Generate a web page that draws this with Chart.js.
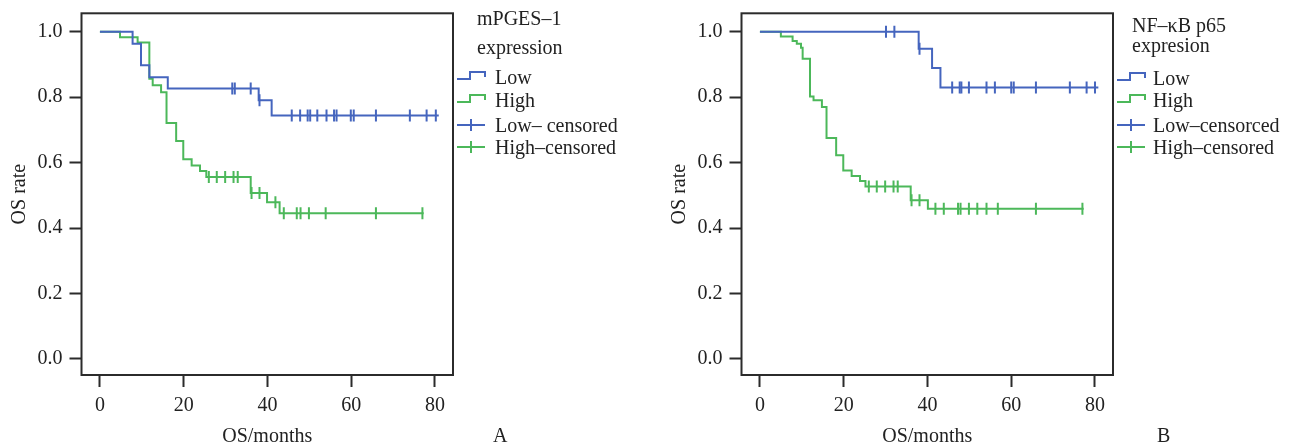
<!DOCTYPE html>
<html>
<head>
<meta charset="utf-8">
<script src="https://cdn.jsdelivr.net/npm/chart.js@4.4.1/dist/chart.umd.min.js"></script>
<style>
  html, body { margin:0; padding:0; background:#fff; }
  body { width:1291px; height:446px; position:relative; overflow:hidden; font-family:'Liberation Serif', 'DejaVu Serif', serif; color:#222; }
  .panel { position:absolute; top:0; height:446px; }
  .lg { position:absolute; font-size:20px; line-height:20px; white-space:nowrap; }
  .lg svg { position:absolute; }
  .tag { position:absolute; font-size:20px; line-height:20px; }
</style>
</head>
<body>
<div class="panel" style="left:0;width:660px;"><canvas id="cA" width="660" height="446"></canvas></div>
<div class="panel" style="left:660px;width:631px;"><canvas id="cB" width="631" height="446"></canvas></div>

<div id="legA"></div>
<div id="legB"></div>
<div class="tag" style="left:493px;top:425px;">A</div>
<div class="tag" style="left:1157px;top:425px;">B</div>

<script>
// ---------------- DATA ----------------
const xTickValues = [0, 20, 40, 60, 80];
const yTickValues = [0, 0.2, 0.4, 0.6, 0.8, 1.0];

// Panel A: mPGES-1 expression
const lowA_t  = [0, 7.8, 9.8, 11.8, 16.2, 37.9, 41.0, 80.9];
const lowA_s  = [1.0, 0.963, 0.897, 0.861, 0.826, 0.790, 0.744, 0.744];
const lowA_cens = [31.6, 32.2, 36.0, 38.1, 45.8, 47.8, 49.6, 50.2, 51.9, 54.1, 55.9, 56.5, 59.9, 60.6, 65.9, 74.0, 78.0, 80.2];

const highA_t = [0, 4.8, 9.0, 11.8, 12.6, 14.6, 15.9, 18.2, 19.9, 21.9, 23.9, 25.4, 36.0, 39.9, 42.9, 77.3];
const highA_s = [1.0, 0.983, 0.967, 0.856, 0.836, 0.815, 0.721, 0.666, 0.610, 0.591, 0.574, 0.556, 0.507, 0.479, 0.445, 0.445];
const highA_cens = [26.0, 27.9, 29.9, 31.9, 32.9, 36.2, 38.1, 41.9, 43.9, 47.0, 47.9, 49.9, 53.9, 65.9, 77.0];

// Panel B: NF-κB p65 expression
const lowB_t  = [0, 37.9, 41.1, 43.1, 80.8];
const lowB_s  = [1.0, 0.948, 0.889, 0.829, 0.829];
const lowB_cens = [30.1, 32.1, 38.1, 45.9, 47.7, 48.1, 49.9, 54.1, 56.1, 60.0, 60.6, 65.9, 74.0, 78.0, 80.0];

const highB_t = [0, 5.0, 7.8, 8.8, 9.8, 10.2, 11.96, 12.8, 14.8, 15.9, 18.2, 19.9, 21.9, 23.9, 25.2, 36.0, 40.1, 77.3];
const highB_s = [1.0, 0.985, 0.971, 0.963, 0.951, 0.917, 0.802, 0.790, 0.770, 0.675, 0.622, 0.576, 0.559, 0.544, 0.527, 0.485, 0.459, 0.459];
const highB_cens = [26.0, 27.9, 29.9, 31.9, 32.9, 36.2, 38.1, 41.9, 43.9, 47.3, 47.9, 49.9, 51.9, 54.1, 56.8, 65.9, 77.0];

const legendA = { title: ['mPGES\u20131', 'expression'], items: ['Low', 'High', 'Low\u2013 censored', 'High\u2013censored'] };
const legendB = { title: ['NF\u2013\u03baB p65', 'expresion'], items: ['Low', 'High', 'Low\u2013censorced', 'High\u2013censored'] };

const xAxisTitle = 'OS/months';
const yAxisTitle = 'OS rate';

// ---------------- STYLE ----------------
const BLUE = '#4565be';
const GREEN = '#4cb85a';
const AXIS = '#2b2b2b';
const FONT = "'Liberation Serif', 'DejaVu Serif', serif";

function curve(ts, ss) { return ts.map((t, i) => ({ x: t, y: ss[i] })); }
function levelAt(ts, ss, t) {
  let v = ss[0];
  for (let i = 0; i < ts.length; i++) { if (ts[i] <= t) v = ss[i]; }
  return v;
}
function cens(ts, ss, cs) { return cs.map(c => ({ x: c, y: levelAt(ts, ss, c) })); }

const boxPlugin = {
  id: 'box',
  beforeDatasetsDraw(chart) {
    const a = chart.chartArea, ctx = chart.ctx;
    ctx.save();
    ctx.strokeStyle = AXIS;
    ctx.lineWidth = 2;
    ctx.strokeRect(a.left, a.top, a.right - a.left, a.bottom - a.top);
    ctx.restore();
  }
};

function makeChart(id, rightPad, lt, ls, lc, ht, hs, hc) {
  const lineDs = (data, color) => ({
    data, showLine: true, stepped: 'before', borderColor: color, backgroundColor: color,
    borderWidth: 2, pointRadius: 0, fill: false, order: 2
  });
  const censDs = (data, color) => ({
    data, showLine: false, borderColor: color, backgroundColor: color,
    pointStyle: 'line', rotation: 90, pointRadius: 6, pointBorderWidth: 2, order: 1
  });
  return new Chart(document.getElementById(id), {
    type: 'scatter',
    data: {
      datasets: [
        lineDs(curve(lt, ls), BLUE),
        lineDs(curve(ht, hs), GREEN),
        censDs(cens(lt, ls, lc), BLUE),
        censDs(cens(ht, hs, hc), GREEN)
      ]
    },
    options: {
      responsive: false,
      animation: false,
      events: [],
      layout: { padding: { top: 13.3, right: rightPad, left: 0, bottom: 0 } },
      plugins: { legend: { display: false }, tooltip: { enabled: false } },
      scales: {
        x: {
          type: 'linear', min: -4.4, max: 84.3,
          afterFit(s) { s.height = 71; s.paddingLeft = 0; s.paddingRight = 0; },
          afterBuildTicks(s) { s.ticks = xTickValues.map(v => ({ value: v })); },
          grid: { drawOnChartArea: false, drawTicks: true, tickLength: 12, tickWidth: 2, tickColor: AXIS },
          border: { display: false },
          ticks: { color: '#222', font: { family: FONT, size: 20 }, padding: 7, maxRotation: 0, callback: v => String(v) },
          title: { display: true, text: xAxisTitle, color: '#222', font: { family: FONT, size: 20, lineHeight: 0.9 }, padding: { top: 0, bottom: 0 } }
        },
        y: {
          type: 'linear', min: -0.049, max: 1.056,
          afterFit(s) { s.width = 81.5; s.paddingTop = 0; s.paddingBottom = 0; },
          afterBuildTicks(s) { s.ticks = yTickValues.map(v => ({ value: v })); },
          grid: { drawOnChartArea: false, drawTicks: true, tickLength: 12, tickWidth: 2, tickColor: AXIS },
          border: { display: false },
          ticks: { color: '#222', font: { family: FONT, size: 20 }, padding: 7, callback: v => Number(v).toFixed(1) },
          title: { display: true, text: yAxisTitle, color: '#222', font: { family: FONT, size: 20, lineHeight: 1.2 }, padding: { top: 7.5, bottom: 0 } }
        }
      }
    },
    plugins: [boxPlugin]
  });
}

makeChart('cA', 207, lowA_t, lowA_s, lowA_cens, highA_t, highA_s, highA_cens);
makeChart('cB', 178, lowB_t, lowB_s, lowB_cens, highB_t, highB_s, highB_cens);

// ---------------- LEGENDS (HTML text) ----------------
function stepSvg(color) {
  return '<svg width="30" height="12" viewBox="0 0 30 12"><polyline points="1,9 14,9 14,2 29,2 29,7" fill="none" stroke="' + color + '" stroke-width="2"/></svg>';
}
function crossSvg(color) {
  return '<svg width="30" height="14" viewBox="0 0 30 14"><line x1="1" y1="7" x2="29" y2="7" stroke="' + color + '" stroke-width="2"/><line x1="15" y1="1" x2="15" y2="13" stroke="' + color + '" stroke-width="2"/></svg>';
}
function buildLegend(el, spec, titleX, titleYs, symX, textX, rowYs) {
  let html = '';
  spec.title.forEach((t, i) => {
    html += '<div class="lg" style="left:' + titleX + 'px;top:' + (titleYs[i] - 10) + 'px;">' + t + '</div>';
  });
  const colors = [BLUE, GREEN, BLUE, GREEN];
  spec.items.forEach((t, i) => {
    const y = rowYs[i];
    const svg = i < 2 ? stepSvg(colors[i]) : crossSvg(colors[i]);
    const h = i < 2 ? 12 : 14;
    html += '<div class="lg" style="left:' + symX + 'px;top:' + (y - h / 2 - (i < 2 ? 1 : 0)) + 'px;">' + svg + '</div>';
    html += '<div class="lg" style="left:' + textX + 'px;top:' + (y - 10) + 'px;">' + t + '</div>';
  });
  el.innerHTML = html;
}
buildLegend(document.getElementById('legA'), legendA, 477, [18, 47], 456, 495, [77, 100, 125, 147]);
buildLegend(document.getElementById('legB'), legendB, 1132, [25, 45], 1116, 1153, [78, 100, 125, 147]);
</script>
</body>
</html>
